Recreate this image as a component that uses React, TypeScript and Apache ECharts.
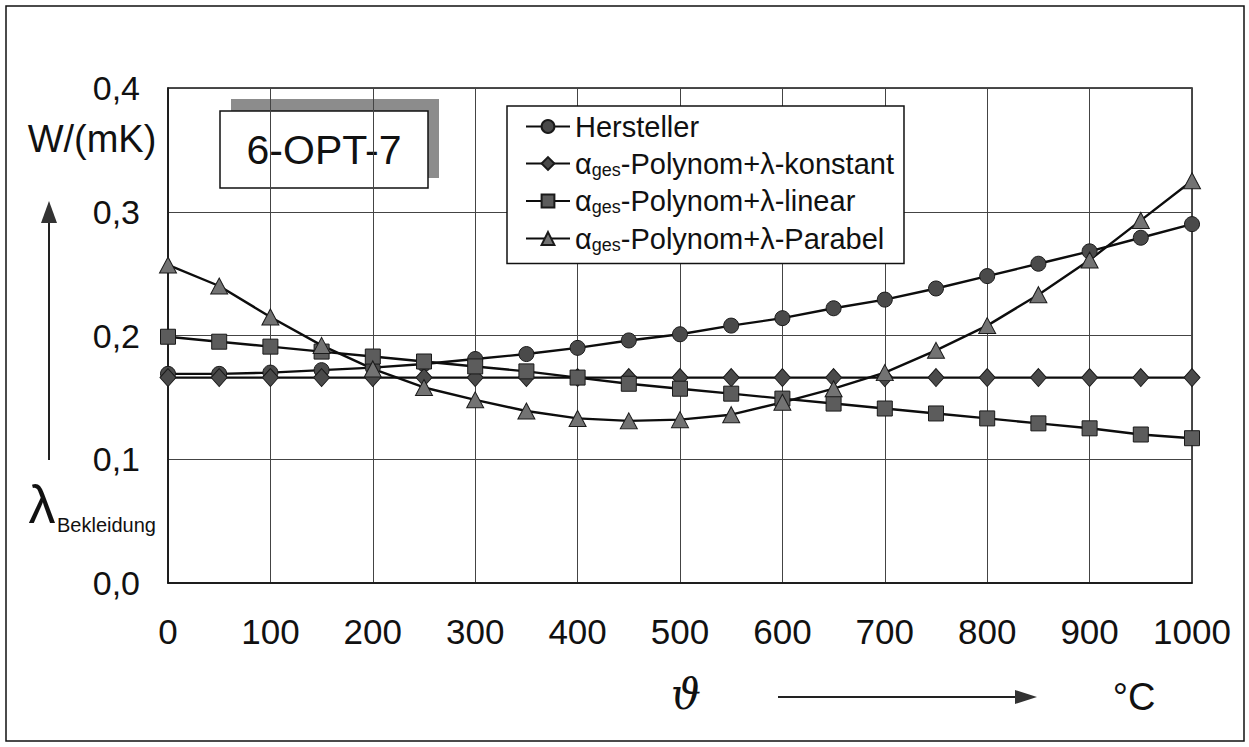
import React, { useEffect, useRef } from "react";
import * as echarts from "echarts";

const temps = [0, 50, 100, 150, 200, 250, 300, 350, 400, 450, 500, 550, 600, 650, 700, 750, 800, 850, 900, 950, 1000];
const hersteller = [0.169, 0.169, 0.170, 0.172, 0.174, 0.177, 0.181, 0.185, 0.190, 0.196, 0.201, 0.208, 0.214, 0.222, 0.229, 0.238, 0.248, 0.258, 0.268, 0.279, 0.290];
const konstant = [0.166, 0.166, 0.166, 0.166, 0.166, 0.166, 0.166, 0.166, 0.166, 0.166, 0.166, 0.166, 0.166, 0.166, 0.166, 0.166, 0.166, 0.166, 0.166, 0.166, 0.166];
const linear = [0.199, 0.195, 0.191, 0.187, 0.183, 0.179, 0.175, 0.171, 0.166, 0.161, 0.157, 0.153, 0.149, 0.145, 0.141, 0.137, 0.133, 0.129, 0.125, 0.120, 0.117];
const parabel = [0.257, 0.240, 0.215, 0.192, 0.173, 0.158, 0.148, 0.139, 0.133, 0.131, 0.132, 0.136, 0.146, 0.157, 0.170, 0.188, 0.208, 0.233, 0.261, 0.293, 0.325];

const seriesNames = ["Hersteller", "konstant", "linear", "Parabel"];
const yTicks = [0, 0.1, 0.2, 0.3, 0.4];
const boxLabel = "6-OPT-7";

const FONT = "Liberation Sans, Arial, sans-serif";

function pairs(vals: number[]) {
  return temps.map((t, i) => [t, vals[i]]);
}

export default function App() {
  const ref = useRef<HTMLDivElement>(null);
  useEffect(() => {
    document.body.style.margin = "0";
    const chart = echarts.init(ref.current!, null, { renderer: "svg" });
    const mk = (name: string, vals: number[], symbol: string, size: any, fill: string) => ({
      name,
      type: "line",
      data: pairs(vals),
      symbol,
      symbolSize: size,
      showAllSymbol: true,
      lineStyle: { color: "#0d0d0d", width: 2.4 },
      itemStyle: { color: fill, borderColor: "#1a1a1a", borderWidth: 1 },
      z: 3,
    });
    chart.setOption({
      animation: false,
      backgroundColor: "#fff",
      grid: { left: 168, right: 57, top: 88, bottom: 164, show: true, borderColor: "#111", borderWidth: 1.5 },
      xAxis: {
        type: "value",
        min: 0,
        max: 1000,
        interval: 100,
        axisLine: { show: true, lineStyle: { color: "#111", width: 1.5 } },
        axisTick: { show: false },
        splitLine: { show: true, lineStyle: { color: "#444", width: 1 } },
        axisLabel: {
          fontSize: 35,
          fontFamily: FONT,
          color: "#111",
          margin: 31,
          formatter: (v: number) => String(v),
        },
      },
      yAxis: {
        type: "value",
        min: 0,
        max: 0.4,
        interval: 0.1,
        axisLine: { show: true, lineStyle: { color: "#111", width: 1.5 } },
        axisTick: { show: false },
        splitLine: { show: true, lineStyle: { color: "#444", width: 1 } },
        axisLabel: {
          fontSize: 34,
          fontFamily: FONT,
          color: "#111",
          margin: 28,
          formatter: (v: number) => (yTicks.includes(Math.round(v * 10) / 10) ? v.toFixed(1).replace(".", ",") : ""),
        },
      },
      legend: {
        orient: "vertical",
        left: 507,
        top: 106,
        padding: [6, 10, 10, 18],
        itemWidth: 44,
        itemHeight: 16,
        itemGap: 8,
        backgroundColor: "#fff",
        borderColor: "#111",
        borderWidth: 1.5,
        data: seriesNames,
        formatter: (name: string) =>
          name === "Hersteller" ? "{t|Hersteller}" : "{a|α}{s|ges}{t|-Polynom+λ-" + name + "}",
        textStyle: {
          color: "#111",
          fontFamily: FONT,
          rich: {
            t: { fontSize: 29, fontFamily: FONT, color: "#111", lineHeight: 30, verticalAlign: "middle" },
            a: { fontSize: 29, fontFamily: FONT, color: "#111", lineHeight: 30, verticalAlign: "middle" },
            s: { fontSize: 18, fontFamily: FONT, color: "#111", lineHeight: 18, verticalAlign: "bottom" },
          },
        },
        z: 5,
      },
      series: [
        mk("Hersteller", hersteller, "circle", 15, "#4a4a4a"),
        mk("konstant", konstant, "diamond", [16, 18], "#4a4a4a"),
        mk("linear", linear, "rect", 15, "#5c5c5c"),
        mk("Parabel", parabel, "triangle", [17, 16], "#737373"),
      ],
      graphic: [
        {
          type: "rect",
          z: 0,
          silent: true,
          shape: { x: 6, y: 6, width: 1238, height: 735 },
          style: { fill: "none", stroke: "#111", lineWidth: 1.5 },
        },
        {
          type: "group",
          z: 10,
          children: [
            { type: "rect", shape: { x: 231, y: 99, width: 208, height: 79 }, style: { fill: "#8c8c8c" } },
            {
              type: "rect",
              shape: { x: 220, y: 111, width: 208, height: 77 },
              style: { fill: "#fff", stroke: "#111", lineWidth: 1.5 },
            },
            {
              type: "text",
              x: 324,
              y: 150,
              style: {
                text: boxLabel,
                fontSize: 41,
                fontFamily: FONT,
                fill: "#111",
                align: "center",
                verticalAlign: "middle",
              },
            },
          ],
        },
        {
          type: "text",
          x: 92,
          y: 139,
          style: { text: "W/(mK)", fontSize: 38, fontFamily: FONT, fill: "#111", align: "center", verticalAlign: "middle" },
        },
        {
          type: "line",
          shape: { x1: 49, y1: 220, x2: 49, y2: 460 },
          style: { stroke: "#222", lineWidth: 2 },
        },
        {
          type: "polygon",
          shape: { points: [[49, 201], [41, 223], [57, 223]] },
          style: { fill: "#333" },
        },
        {
          type: "text",
          x: 42,
          y: 504,
          style: { text: "λ", fontSize: 54, fontFamily: FONT, fill: "#111", align: "center", verticalAlign: "middle" },
        },
        {
          type: "text",
          x: 57,
          y: 525,
          style: { text: "Bekleidung", fontSize: 20, fontFamily: FONT, fill: "#111", align: "left", verticalAlign: "middle" },
        },
        {
          type: "text",
          x: 686,
          y: 694,
          style: { text: "ϑ", fontSize: 42, fontFamily: "DejaVu Serif, serif", fontStyle: "italic", fill: "#111", align: "center", verticalAlign: "middle" },
        },
        {
          type: "line",
          shape: { x1: 778, y1: 697, x2: 1018, y2: 697 },
          style: { stroke: "#222", lineWidth: 2 },
        },
        {
          type: "polygon",
          shape: { points: [[1037, 697], [1015, 690], [1015, 704]] },
          style: { fill: "#333" },
        },
        {
          type: "text",
          x: 1134,
          y: 697,
          style: { text: "°C", fontSize: 38, fontFamily: FONT, fill: "#111", align: "center", verticalAlign: "middle" },
        },
      ],
    });
    return () => chart.dispose();
  }, []);
  return <div ref={ref} style={{ width: 1249, height: 747, overflow: "hidden" }} />;
}
